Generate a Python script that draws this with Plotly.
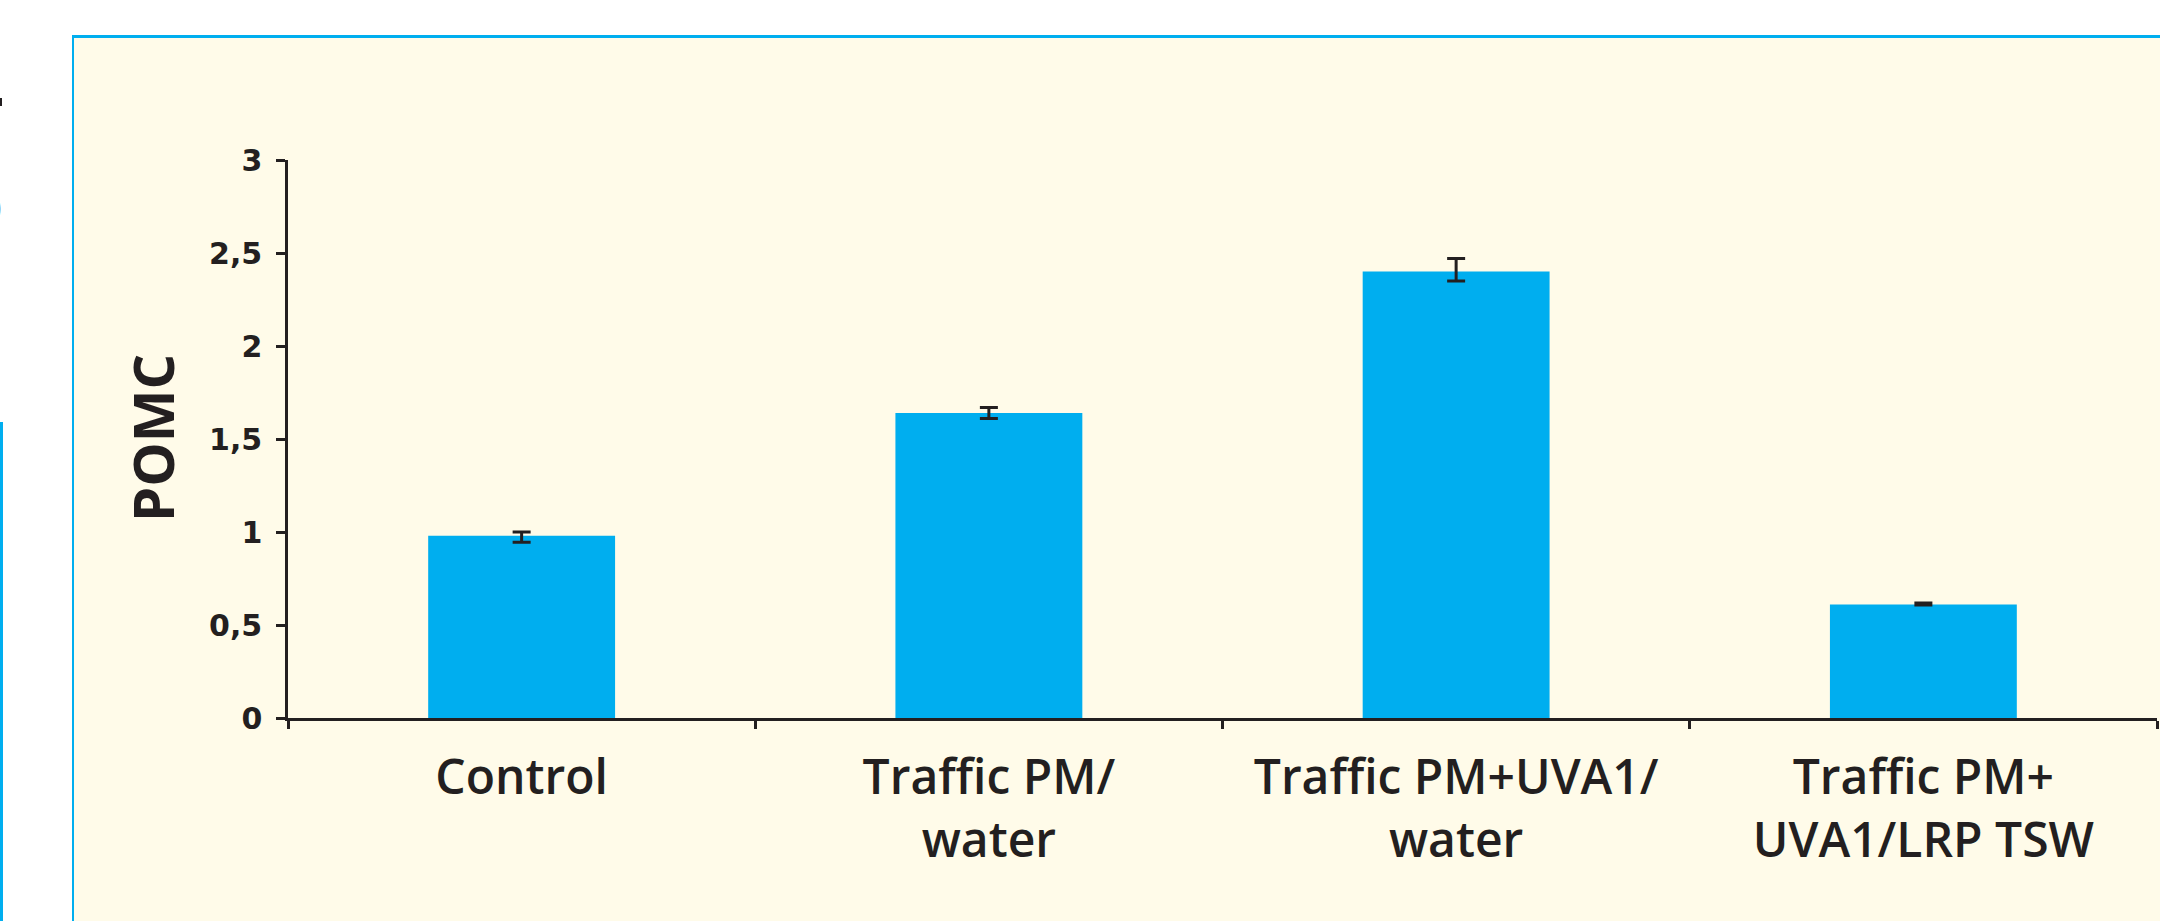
import plotly.graph_objects as go

# ---- data ----
categories = ["Control", "Traffic PM/<br>water", "Traffic PM+UVA1/<br>water", "Traffic PM+<br>UVA1/LRP TSW"]
values = [0.98, 1.64, 2.40, 0.61]
err_plus = [0.02, 0.03, 0.07, 0.008]
err_minus = [0.035, 0.03, 0.05, 0.003]
y_tickvals = [0, 0.5, 1, 1.5, 2, 2.5, 3]
y_ticktext = ["0", "0,5", "1", "1,5", "2", "2,5", "3"]
y_title = "POMC"

W, H = 2160, 921
L, R, T, B = 288, 3, 160, 203
PW, PH = W - L - R, H - T - B

def px(x):
    return (x - L) / PW

def py(y):
    return (H - B - y) / PH

ink = "#231f20"
blue = "#00AEEF"
cream = "#FFFBE9"

fig = go.Figure()
fig.add_trace(go.Bar(
    x=categories, y=values, width=0.4,
    marker=dict(color=blue, line=dict(width=0)),
    error_y=dict(type="data", array=err_plus, arrayminus=err_minus, symmetric=False,
                 color=ink, thickness=3, width=9),
    showlegend=False,
))

shapes = [
    # cream panel
    dict(type="rect", xref="paper", yref="paper", x0=px(73), x1=px(W + 20), y0=py(H + 20), y1=py(37),
         fillcolor=cream, line=dict(width=0), layer="below"),
    # top border
    dict(type="line", xref="paper", yref="paper", x0=px(72), x1=px(W + 20), y0=py(36.5), y1=py(36.5),
         line=dict(color=blue, width=3), layer="below"),
    # left border
    dict(type="line", xref="paper", yref="paper", x0=px(73), x1=px(73), y0=py(35), y1=py(H + 20),
         line=dict(color=blue, width=2), layer="below"),
    # fragment of neighbouring panel at far left
    dict(type="line", xref="paper", yref="paper", x0=px(1.5), x1=px(1.5), y0=py(422), y1=py(H + 20),
         line=dict(color=blue, width=3), layer="below"),
    dict(type="rect", xref="paper", yref="paper", x0=px(-2), x1=px(2), y0=py(106), y1=py(98),
         fillcolor=ink, line=dict(width=0), layer="below"),
]

annotations = [
    dict(text=y_title, xref="paper", yref="paper", x=px(152), y=py(438), textangle=-90,
         showarrow=False, xanchor="center", yanchor="middle",
         font=dict(family="Open Sans", size=56, color=ink, weight=700)),
    dict(text=")", xref="paper", yref="paper", x=px(4), y=py(205), showarrow=False,
         xanchor="right", yanchor="middle",
         font=dict(family="Open Sans", size=34, color=ink, weight=700)),
]

fig.update_layout(
    width=W, height=H,
    margin=dict(l=L, r=R, t=T, b=B, pad=0),
    paper_bgcolor="white",
    plot_bgcolor="rgba(0,0,0,0)",
    shapes=shapes,
    annotations=annotations,
    bargap=0.6,
)

fig.update_xaxes(
    type="category",
    showline=True, linecolor=ink, linewidth=2.5,
    ticks="outside", tickson="boundaries", ticklen=8, tickwidth=2.5, tickcolor=ink,
    showgrid=False, zeroline=False,
    tickfont=dict(family="Open Sans", size=48, color=ink, weight=600),
    ticklabelstandoff=16,
)
fig.update_yaxes(
    range=[0, 3],
    tickvals=y_tickvals, ticktext=y_ticktext,
    showline=True, linecolor=ink, linewidth=2.5,
    ticks="outside", ticklen=9, tickwidth=2.5, tickcolor=ink,
    showgrid=False, zeroline=False,
    tickfont=dict(family="DejaVu Sans", size=30, color=ink, weight=700),
    ticklabelstandoff=8,
)

fig.write_html("out.html", config={"displayModeBar": False},
               post_script="document.body.style.margin='0';document.body.style.overflow='hidden';")
